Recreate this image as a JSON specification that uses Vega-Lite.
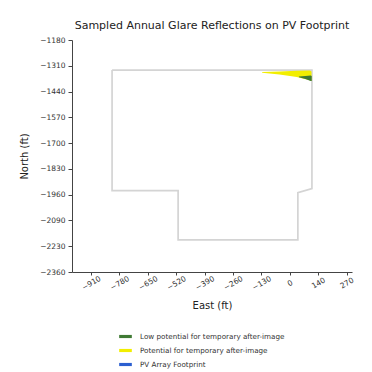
{
  "$schema": "https://vega.github.io/schema/vega-lite/v6.json",
  "autosize": "none",
  "width": 280,
  "height": 232,
  "padding": {"left": 72, "top": 40, "right": 20, "bottom": 100},
  "background": "white",
  "config": {
    "view": {"stroke": null},
    "font": "DejaVu Sans",
    "axis": {"grid": false, "domainColor": "#444", "tickColor": "#444", "labelColor": "#333", "titleColor": "#222", "labelFont": "DejaVu Sans", "titleFont": "DejaVu Sans", "titleFontWeight": "normal", "labelOverlap": false, "tickCount": 20}
  },
  "title": {"text": "Sampled Annual Glare Reflections on PV Footprint", "fontSize": 11, "fontWeight": "normal", "font": "DejaVu Sans", "color": "#222", "anchor": "middle", "offset": 5},
  "datasets": {
    "footprint": [
      {"i": 1, "east": -813, "north": -1333},
      {"i": 2, "east": 110, "north": -1333},
      {"i": 3, "east": 110, "north": -1936},
      {"i": 4, "east": 45, "north": -1956},
      {"i": 5, "east": 45, "north": -2197},
      {"i": 6, "east": -508, "north": -2197},
      {"i": 7, "east": -508, "north": -1946},
      {"i": 8, "east": -813, "north": -1946},
      {"i": 9, "east": -813, "north": -1333}
    ],
    "glare": [
      {"cat": "Potential for temporary after-image", "east": -120, "top": -1343, "bottom": -1347},
      {"cat": "Potential for temporary after-image", "east": -40, "top": -1340, "bottom": -1356},
      {"cat": "Potential for temporary after-image", "east": 40, "top": -1337, "bottom": -1368},
      {"cat": "Potential for temporary after-image", "east": 100, "top": -1335, "bottom": -1385},
      {"cat": "Potential for temporary after-image", "east": 108, "top": -1340, "bottom": -1388},
      {"cat": "Low potential for temporary after-image", "east": 50, "top": -1366, "bottom": -1370},
      {"cat": "Low potential for temporary after-image", "east": 80, "top": -1363, "bottom": -1378},
      {"cat": "Low potential for temporary after-image", "east": 104, "top": -1360, "bottom": -1388},
      {"cat": "Low potential for temporary after-image", "east": 109, "top": -1363, "bottom": -1388}
    ]
  },
  "layer": [
    {
      "data": {"name": "footprint"},
      "mark": {"type": "line", "stroke": "#d4d4d4", "strokeWidth": 1.7},
      "encoding": {
        "x": {"field": "east", "type": "quantitative", "scale": {"domain": [-998, 295], "nice": false, "zero": false},
          "axis": {"title": "East (ft)", "titleFontSize": 10, "labelFontSize": 7.5, "labelAngle": -30, "labelAlign": "center", "labelBaseline": "middle", "labelPadding": 8, "tickSize": 3, "tickCount": 20, "labelBound": false,
            "values": [-910, -778.889, -647.778, -516.667, -385.556, -254.444, -123.333, 7.778, 138.889, 270],
            "labelExpr": "['−910','−780','−650','−520','−390','−260','−130','0','140','270'][round((datum.value+910)/131.111)]",
            "titlePadding": 9}},
        "y": {"field": "north", "type": "quantitative", "scale": {"domain": [-2360, -1180], "nice": false, "zero": false},
          "axis": {"title": "North (ft)", "titleFontSize": 10, "labelFontSize": 7.5, "tickSize": 4, "labelPadding": 3, "tickCount": 20, "labelBound": false,
            "values": [-2360, -2228.889, -2097.778, -1966.667, -1835.556, -1704.444, -1573.333, -1442.222, -1311.111, -1180],
            "labelExpr": "['−2360','−2230','−2090','−1960','−1830','−1700','−1570','−1440','−1310','−1180'][round((datum.value+2360)/131.111)]",
            "titlePadding": 10}},
        "order": {"field": "i", "type": "quantitative"}
      }
    },
    {
      "data": {"name": "glare"},
      "mark": {"type": "area", "orient": "vertical"},
      "encoding": {
        "x": {"field": "east", "type": "quantitative"},
        "y": {"field": "top", "type": "quantitative", "stack": null},
        "y2": {"field": "bottom"},
        "color": {"field": "cat", "type": "nominal",
          "scale": {"domain": ["Low potential for temporary after-image", "Potential for temporary after-image", "PV Array Footprint"], "range": ["#3f7a34", "#f2ee00", "#2b5fd0"]},
          "legend": {"title": null, "orient": "none", "legendX": 42, "legendY": 285, "symbolType": "M-1,-0.25H1V0.25H-1Z", "symbolSize": 160, "symbolOpacity": 1, "labelFontSize": 7.2, "labelColor": "#333", "rowPadding": 3, "labelOffset": 7, "padding": 4}
        }
      }
    }
  ]
}
